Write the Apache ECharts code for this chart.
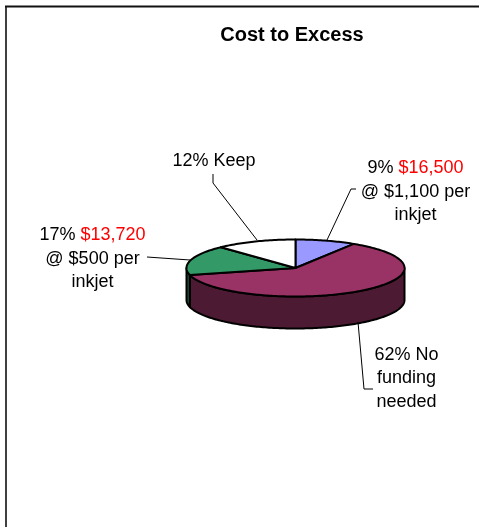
<!DOCTYPE html>
<html><head><meta charset="utf-8">
<style>html,body{margin:0;padding:0;background:#fff}#c{width:479px;height:527px}</style>
<script src="https://cdn.jsdelivr.net/npm/echarts@6/dist/echarts.min.js"></script>
</head><body><div id="c"></div>
<script>
const titleText = "Cost to Excess";
const categories = ["$1,100 per inkjet", "No funding needed", "$500 per inkjet", "Keep"];
const shares = [9, 62, 17, 12];
const labelTexts = [
  "9% {r|$16,500}\n@ $1,100 per\ninkjet",
  "62% No\nfunding\nneeded",
  "17% {r|$13,720}\n@ $500 per\ninkjet",
  "12% Keep"
];
const topColors = ["#9999FF", "#993366", "#339966", "#FFFFFF"];
const sideColors = ["#4D4D80", "#4D1A33", "#1A4D33", "#808080"];

const labelAnchors = [[415.5, 192], [406.5, 378.5], [92.5, 259], [214, 161]];
const leaders = [
  [[327, 240], [351, 189], [356, 189]],
  [[358, 322], [364, 389], [373, 389]],
  [[147, 257], [190, 260]],
  [[213, 174], [213, 183], [257, 240]]
];
const pie = {cx: 295.5, cy: 268, rx: 109, ry: 28.5, depth: 32};
const total = shares.reduce((a, b) => a + b, 0);
const startOf = i => shares.slice(0, i).reduce((a, b) => a + b, 0) / total * 2 * Math.PI;
const px = t => pie.cx + pie.rx * Math.sin(t);
const py = t => pie.cy - pie.ry * Math.cos(t);

function arc(a, b) {
  const n = Math.max(2, Math.ceil((b - a) / 0.02)), out = [];
  for (let k = 0; k <= n; k++) {
    const t = a + (b - a) * k / n;
    out.push([px(t), py(t)]);
  }
  return out;
}
const line = {stroke: "#000", lineWidth: 2, lineJoin: "round"};

const chart = echarts.init(document.getElementById("c"), null, {renderer: "canvas"});
chart.setOption({
  animation: false,
  backgroundColor: "#fff",
  title: {
    text: titleText, left: 287, top: 20, textAlign: "center",
    textStyle: {fontFamily: "Liberation Sans", fontSize: 20, fontWeight: "bold", color: "#000"}
  },
  graphic: [
    {type: "line", silent: true, shape: {x1: 6, y1: 527, x2: 6, y2: 6},
     style: {stroke: "#404040", lineWidth: 2}},
    {type: "line", silent: true, shape: {x1: 5, y1: 6.5, x2: 479, y2: 6.5},
     style: {stroke: "#111", lineWidth: 2}}
  ],
  series: [
    {
      type: "custom", coordinateSystem: "none", silent: true, z: 1,
      data: shares.map(v => [v]),
      renderItem(params, api) {
        const i = params.dataIndex;
        const a = Math.max(startOf(i), Math.PI / 2);
        const b = Math.min(startOf(i) + api.value(0) / total * 2 * Math.PI, Math.PI * 1.5);
        if (b <= a) return {type: "group", children: []};
        const front = arc(a, b);
        const back = front.map(p => [p[0], p[1] + pie.depth]).reverse();
        return {
          type: "polygon",
          shape: {points: front.concat(back)},
          style: {fill: sideColors[i], ...line}
        };
      }
    },
    {
      type: "custom", coordinateSystem: "none", silent: true, z: 2,
      data: shares.map(v => [v]),
      renderItem(params, api) {
        const i = params.dataIndex;
        const a = startOf(i);
        const b = a + api.value(0) / total * 2 * Math.PI;
        return {
          type: "polygon",
          shape: {points: [[pie.cx, pie.cy]].concat(arc(a, b))},
          style: {fill: topColors[i], ...line}
        };
      }
    },
    {
      type: "custom", coordinateSystem: "none", silent: true, z: 3,
      data: shares.map(v => [v]),
      renderItem(params) {
        const i = params.dataIndex;
        return {
          type: "group",
          children: [
            {type: "polyline", shape: {points: leaders[i]},
             style: {stroke: "#000", lineWidth: 1, fill: null}},
            {type: "text", x: labelAnchors[i][0], y: labelAnchors[i][1],
             style: {
               text: labelTexts[i], align: "center", verticalAlign: "middle",
               fontFamily: "Liberation Sans", fontSize: 18, lineHeight: 23.5, fill: "#000",
               rich: {r: {fill: "#FF0000", fontFamily: "Liberation Sans", fontSize: 18, lineHeight: 23.5}}
             }}
          ]
        };
      }
    }
  ]
});
</script></body></html>
